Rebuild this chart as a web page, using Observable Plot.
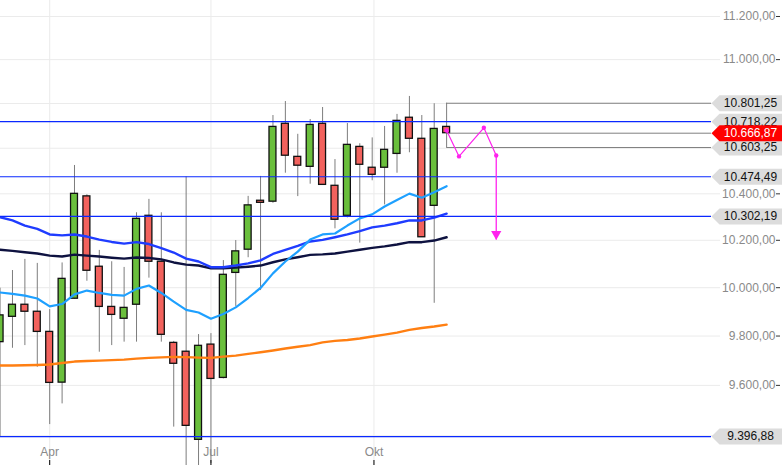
<!DOCTYPE html>
<html>
<head>
<meta charset="utf-8">
<script src="https://cdn.jsdelivr.net/npm/d3@7"></script>
<script src="https://cdn.jsdelivr.net/npm/@observablehq/plot@0.6"></script>
<style>
  html, body { margin: 0; padding: 0; background: #fff; }
  #chart svg { display: block; }
</style>
</head>
<body>
<div id="chart"></div>
<script>
// ---- Data (weekly candles) ----
const dates = ["2016-03-04","2016-03-11","2016-03-18","2016-03-25","2016-04-01","2016-04-08","2016-04-15","2016-04-22","2016-04-29","2016-05-06","2016-05-13","2016-05-20","2016-05-27","2016-06-03","2016-06-10","2016-06-17","2016-06-24","2016-07-01","2016-07-08","2016-07-15","2016-07-22","2016-07-29","2016-08-05","2016-08-12","2016-08-19","2016-08-26","2016-09-02","2016-09-09","2016-09-16","2016-09-23","2016-09-30","2016-10-07","2016-10-14","2016-10-21","2016-10-28","2016-11-04","2016-11-11"];
const opens  = [9775,9879,9929,9900,9817,9611,9954,10389,10088,9920,9871,9929,10305,10109,9772,9736,9384,9765,9630,10062,10160,10370,10366,10709,10562,10518,10709,10435,10305,10606,10514,10514,10575,10736,10642,10348,10695];
const highs  = [9998,10072,10119,10102,9909,10104,10524,10396,10157,10109,10085,10318,10376,10318,9778,10474,9806,9810,10114,10199,10389,10476,10746,10809,10662,10728,10782,10550,10710,10620,10646,10697,10751,10832,10746,10799,10801.25];
const lows   = [9396.88,9750,9761,9673,9444,9526,9952,10027,9734,9761,9775,9775,10040,9775,9434,9214,9250,9292,9626,9922,10126,9988,10359,10490,10388,10442,10437,10249,10296,10188,10457,10352,10490,10580,10212,9935,10603.25];
const closes = [9885,9929,9900,9817,9610,10037,10400,10071,9920,9887,9916,10292,10109,9805,9687,9439,9760,9626,10054,10153,10350,10361,10695,10567,10523,10704,10439,10288,10615,10527,10483,10593,10722,10642,10213,10686,10666.87];

// moving averages
const maLight  = [9980,9974,9967,9955,9922,9932,9972,9988,9978,9970,9967,9995,10009,9978,9942,9908,9897,9871,9891,9918,9957,9999,10060,10110,10152,10203,10225,10229,10263,10294,10311,10345,10373,10401,10383,10407,10433];
const maBlue   = [10299,10285,10263,10249,10225,10221,10225,10216,10203,10193,10186,10192,10184,10167,10148,10122,10110,10086,10086,10093,10102,10115,10142,10159,10176,10195,10202,10213,10225,10239,10255,10263,10273,10285,10285,10297,10314];
const maNavy   = [10160,10155,10149,10144,10135,10131,10139,10135,10131,10126,10122,10127,10125,10119,10106,10097,10093,10081,10081,10084,10088,10093,10107,10119,10128,10138,10140,10144,10152,10160,10168,10174,10182,10192,10192,10199,10213];
const maOrange = [9680,9680,9681,9682,9684,9690,9696,9698,9700,9702,9704,9708,9711,9713,9715,9714,9712,9711,9716,9720,9727,9734,9741,9749,9756,9763,9774,9780,9784,9790,9798,9806,9814,9825,9833,9839,9847];

// levels
const blueLevels = [10718.22, 10474.49, 10302.19, 9396.88];
const grayLevels = [10801.25, 10603.25, 10666.87];
const tagLevels  = [10801.25, 10718.22, 10603.25, 10474.49, 10302.19, 9396.88];
const lastPrice  = 10666.87;

// projection (pink)
const pinkDates  = ["2016-11-11","2016-11-18","2016-12-02","2016-12-09"];
const pinkValues = [10679, 10564, 10691, 10568];
const arrowTip   = 10203;

// axes
const gridValues  = [9400,9600,9800,10000,10200,10400,10600,10800,11000,11200];
const tickLabels  = [9600,9800,10000,10200,10400,11000,11200]; // the others sit under the price tags
const monthDates  = ["2016-04-01","2016-07-01","2016-10-01"];
const monthLabels = ["Apr","Jul","Okt"];

// ---- Build ----
const fmt = d3.formatLocale({decimal: ",", thousands: ".", grouping: [3], currency: ["", ""]}).format(",.2f");
const candles = dates.map((d, i) => ({date: new Date(d), open: opens[i], high: highs[i], low: lows[i], close: closes[i]}));
const mkSeries = arr => dates.map((d, i) => ({date: new Date(d), value: arr[i]}));
const pink = pinkDates.map((d, i) => ({date: new Date(d), value: pinkValues[i]}));
const arrow = [{date: new Date(pinkDates[pinkDates.length - 1]), from: pinkValues[pinkValues.length - 1], to: arrowTip}];
const months = monthDates.map((d, i) => ({date: new Date(d), label: monthLabels[i]}));
const lastDate = new Date(dates[dates.length - 1]);

const xStart = new Date(Date.UTC(2016, 2, 4, 5, 45));
const xEnd = new Date(+xStart + 441.31 * 864e5);
const halfBody = 47 * 3600e3;

const GREEN = "#6abf3c", RED = "#f2625d", PINK = "#ff22ee";
const tagSymbol = {
  draw(ctx) {
    ctx.moveTo(-71, 0); ctx.lineTo(-63, -8); ctx.lineTo(0, -8);
    ctx.lineTo(0, 8); ctx.lineTo(-63, 8); ctx.closePath();
  }
};

const chart = Plot.plot({
  width: 782, height: 465,
  marginTop: 0, marginBottom: 0, marginLeft: 0, marginRight: 0,
  style: {fontFamily: "'Liberation Sans', Arial, sans-serif", fontSize: "12px", background: "#fff", overflow: "hidden"},
  x: {type: "utc", domain: [xStart, xEnd], axis: null},
  y: {type: "log", domain: [9283.9, 11275.1], axis: null},
  marks: [
    Plot.ruleX(months, {x: "date", stroke: "#ebebeb"}),
    Plot.ruleY(gridValues, {y: d => d, stroke: "#ebebeb", insetRight: 62}),
    // candles
    Plot.ruleX(candles, {x: "date", y1: "low", y2: "high", stroke: "#7d7d7d", strokeWidth: 1}),
    Plot.rect(candles, {
      x1: d => new Date(+d.date - halfBody), x2: d => new Date(+d.date + halfBody),
      y1: "open", y2: "close",
      fill: d => d.close >= d.open ? GREEN : RED, stroke: "#111", strokeWidth: 1.3
    }),
    // moving averages
    Plot.line(mkSeries(maOrange), {x: "date", y: "value", stroke: "#ff7f12", strokeWidth: 2.4}),
    Plot.line(mkSeries(maNavy), {x: "date", y: "value", stroke: "#0e1240", strokeWidth: 2.4}),
    Plot.line(mkSeries(maBlue), {x: "date", y: "value", stroke: "#1f3cff", strokeWidth: 2.4}),
    Plot.line(mkSeries(maLight), {x: "date", y: "value", stroke: "#1ea0ff", strokeWidth: 2.2}),
    // level lines
    Plot.ruleY(blueLevels, {y: d => d, stroke: "#0a28ff", strokeWidth: 1.2, insetRight: 71}),
    Plot.ruleY(grayLevels, {y: d => d, x1: () => lastDate, x2: () => xEnd, stroke: "#808080", strokeWidth: 1, insetRight: 71}),
    // projection
    Plot.line(pink, {x: "date", y: "value", stroke: PINK, strokeWidth: 1.2}),
    Plot.dot(pink, {x: "date", y: "value", r: 2.2, fill: PINK}),
    Plot.link(arrow, {x1: "date", x2: "date", y1: "from", y2: "to", stroke: PINK, strokeWidth: 1.3}),
    Plot.dot(arrow, {x: "date", y: "to", symbol: "triangle", rotate: 180, r: 3.8, dy: -5.6, fill: PINK}),
    // x axis
    Plot.text(months, {x: "date", text: "label", frameAnchor: "bottom", lineAnchor: "middle", dy: -13, fill: "#8a8a8a", fontSize: 12}),
    Plot.ruleX(months, {x: "date", stroke: "#000", insetTop: 460}),
    // y axis labels
    Plot.text(tickLabels, {y: d => d, text: d => fmt(d), frameAnchor: "right", textAnchor: "end", dx: -7, fill: "#8a8a8a", fontSize: 12}),
    Plot.ruleY(tickLabels, {y: d => d, stroke: "#333", insetLeft: 776, insetRight: 2}),
    // tags
    Plot.dot(tagLevels, {y: d => d, frameAnchor: "right", symbol: tagSymbol, r: 8, fill: "#dcdcdc", stroke: "none"}),
    Plot.text(tagLevels, {y: d => d, text: d => fmt(d), frameAnchor: "right", textAnchor: "middle", dx: -32, fill: "#111", fontSize: 12}),
    Plot.dot([lastPrice], {y: d => d, frameAnchor: "right", symbol: tagSymbol, r: 8, fill: "#ff0000", stroke: "none"}),
    Plot.text([lastPrice], {y: d => d, text: d => fmt(d), frameAnchor: "right", textAnchor: "middle", dx: -32, fill: "#fff", fontSize: 12})
  ]
});
document.getElementById("chart").appendChild(chart);
</script>
</body>
</html>
